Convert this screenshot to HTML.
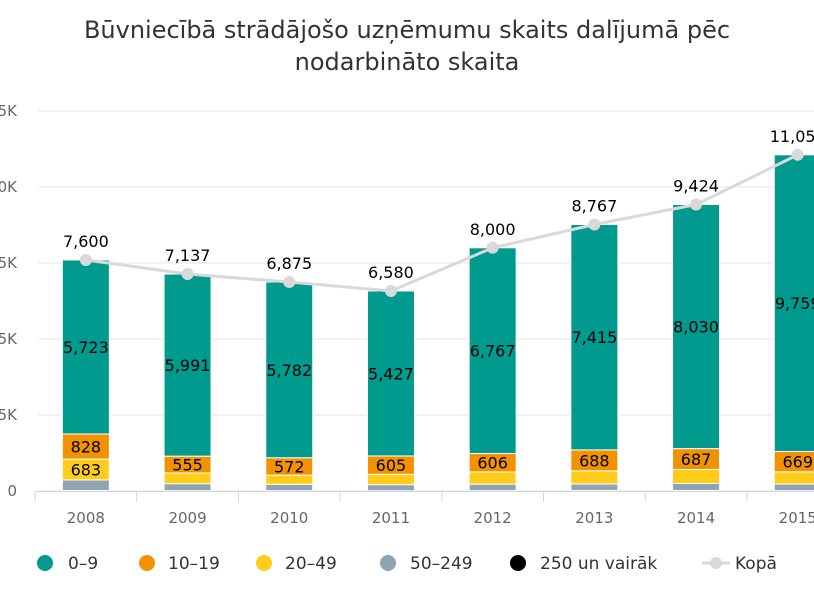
<!DOCTYPE html>
<html><head><meta charset="utf-8"><style>
body{margin:0;background:#fff;width:814px;height:610px;overflow:hidden;font-family:"DejaVu Sans","Liberation Sans",sans-serif}
svg text{font-family:"DejaVu Sans","Liberation Sans",sans-serif}
</style></head><body>
<svg id="c" width="814" height="610">
<text x="407" y="38" text-anchor="middle" font-size="24" fill="#333">Būvniecībā strādājošo uzņēmumu skaits dalījumā pēc</text>
<text x="407" y="70" text-anchor="middle" font-size="24" fill="#333">nodarbināto skaita</text>
</svg>
<script>
const categories=["2008","2009","2010","2011","2012","2013","2014","2015"];
const s0_9=[5723,5991,5782,5427,6767,7415,8030,9759];
const s10_19=[828,555,572,605,606,688,687,669];
const s20_49=[683,350,300,340,400,430,460,400];
const s50_249=[350,230,210,200,215,220,232,220];
const s250=[16,11,11,8,12,14,15,11];
const totals=[7600,7137,6875,6580,8000,8767,9424,11059];
const yTicks=[0,2500,5000,7500,10000,12500];
const yTickLabels=["0","2.5K","5K","7.5K","10K","12.5K"];
const svg=document.getElementById('c');const NS='http://www.w3.org/2000/svg';
function mk(t,a,p){const e=document.createElementNS(NS,t);for(const k in a)e.setAttribute(k,a[k]);(p||svg).appendChild(e);return e;}
const x0=35,band=101.7,bw=47,yBase=491,pxPer=76/2500;
const X=i=>x0+band*(i+0.5);const Y=v=>yBase-v*pxPer;
yTicks.forEach((t,i)=>{const g=mk('line',{x1:38,x2:814,y1:Y(t),y2:Y(t),stroke:'#e6e6e6','stroke-width':1});


const l=mk('text',{x:17,y:Y(t)+5,'text-anchor':'end','font-size':15,fill:'#666'});l.textContent=yTickLabels[i];

});
const series=[[s50_249,'#8fa4b0','50-249'],[s20_49,'#ffcc1a','20-49'],[s10_19,'#f39200','10-19'],[s0_9,'#009a8e','0-9']];
categories.forEach((c,i)=>{let acc=s250[i];
series.forEach(([arr,col,nm],si)=>{const y1=Y(acc),y2=Y(acc+arr[i]);
const r=mk('rect',{x:X(i)-bw/2,y:y2,width:bw,height:y1-y2,fill:col,stroke:'#fff','stroke-width':1});


if((si==3)||(si==2)||(si==1&&y1-y2>18)){const t=mk('text',{x:X(i),y:(y1+y2)/2+6,'text-anchor':'middle','font-size':16,fill:'#000'});t.textContent=arr[i].toLocaleString('en-US');

}
acc+=arr[i];});
const xl=mk('text',{x:X(i),y:523,'text-anchor':'middle','font-size':15,fill:'#666'});xl.textContent=c;


const tk=mk('line',{x1:x0+band*i,x2:x0+band*i,y1:491,y2:502,stroke:'#ccd6eb'});

});
const ax=mk('line',{x1:x0,x2:814,y1:491.5,y2:491.5,stroke:'#ccd6eb','stroke-width':1});


const pl=mk('polyline',{points:totals.map((v,i)=>X(i)+','+Y(v)).join(' '),fill:'none',stroke:'#d9d9d9','stroke-width':3});


totals.forEach((v,i)=>{const p=mk('circle',{cx:X(i),cy:Y(v),r:6,fill:'#d9d9d9'});


const t=mk('text',{x:X(i),y:Y(v)-13,'text-anchor':'middle','font-size':16,fill:'#000'});t.textContent=v.toLocaleString('en-US');

});
const leg=[[45,68,'#009a8e','0–9'],[147,168,'#f39200','10–19'],[264,285,'#ffcc1a','20–49'],[388,410,'#8fa4b0','50–249'],[518,540,'#000','250 un vairāk']];
leg.forEach(([cx,tx,col,lab])=>{const g=mk('g',{});


mk('circle',{cx:cx,cy:563,r:8,fill:col},g);const t=mk('text',{x:tx,y:569,'font-size':17,fill:'#333'},g);t.textContent=lab;});
const g=mk('g',{});


mk('line',{x1:702,x2:730,y1:563,y2:563,stroke:'#d9d9d9','stroke-width':3},g);mk('circle',{cx:716,cy:563,r:6,fill:'#d9d9d9'},g);
const lt=mk('text',{x:735,y:569,'font-size':17,fill:'#333'},g);lt.textContent='Kopā';
</script>
</body></html>
